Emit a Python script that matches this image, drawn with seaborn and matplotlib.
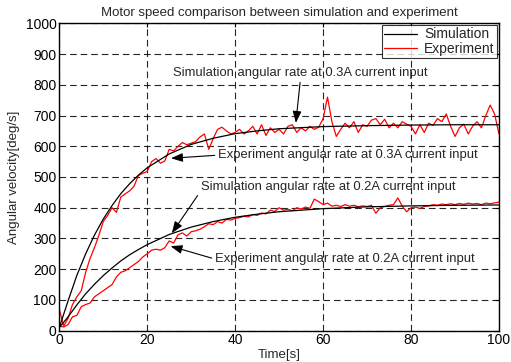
import numpy as np
import pandas as pd
import seaborn as sns
import matplotlib
matplotlib.use("Agg")
import matplotlib.pyplot as plt

# ---- data ----
sim_t = [0, 2, 4, 6, 8, 10, 12, 14, 16, 18, 20, 25, 30, 35, 40, 45, 50, 60, 70, 80, 90, 100]
sim_03 = [10, 97, 180, 250, 311, 363, 407, 446, 478, 506, 530, 575, 606, 626, 641, 650, 657, 664, 667, 669, 670, 670]
sim_02 = [10, 45, 84, 120, 151, 179, 204, 227, 247, 264, 280, 313, 337, 355, 369, 379, 387, 397, 403, 406, 408, 409]

exp_t = list(range(0, 101))
exp_03 = [70, 15, 40, 85, 110, 130, 190, 235, 270, 310,
          355, 375, 400, 385, 435, 445, 455, 470, 505, 512,
          518, 550, 560, 545, 552, 590, 585, 600, 612, 605,
          610, 615, 630, 640, 590, 625, 655, 662, 650, 640,
          645, 655, 640, 650, 665, 640, 670, 635, 660, 645,
          655, 640, 665, 670, 645, 660, 650, 665, 655, 662,
          690, 760, 680, 632, 655, 675, 660, 680, 645, 670,
          665, 685, 690, 670, 688, 660, 675, 660, 680, 672,
          665, 640, 670, 645, 675, 668, 690, 680, 705, 665,
          632, 660, 672, 640, 665, 680, 660, 700, 734, 705,
          640]
exp_02 = [15, 12, 20, 45, 50, 78, 85, 90, 110, 120,
          130, 140, 150, 175, 190, 195, 205, 215, 225, 240,
          250, 262, 265, 262, 270, 292, 285, 312, 318, 308,
          322, 325, 330, 338, 348, 345, 355, 350, 362, 360,
          365, 368, 372, 370, 378, 375, 383, 380, 392, 388,
          400, 392, 395, 390, 400, 396, 402, 398, 428, 420,
          410, 415, 405, 408, 404, 410, 405, 408, 403, 406,
          404, 408, 382, 400, 404, 408, 410, 432, 405, 387,
          400, 402, 398, 404, 406, 410, 408, 412, 410, 413,
          410, 414, 411, 415, 412, 414, 410, 415, 413, 416,
          418]

x_ticks = [0, 20, 40, 60, 80, 100]
y_ticks = [0, 100, 200, 300, 400, 500, 600, 700, 800, 900, 1000]

sns.set_style("white")
plt.rcParams['font.family'] = ['Liberation Sans', 'DejaVu Sans']
plt.rcParams['font.size'] = 9

fig = plt.figure(figsize=(5.11, 3.62), dpi=100)
ax = fig.add_axes([0.116, 0.0865, 0.8605, 0.8491])

sns.lineplot(x=exp_t, y=exp_03, color='red', lw=0.9, ax=ax, label='Experiment')
sns.lineplot(x=exp_t, y=exp_02, color='red', lw=0.9, ax=ax, legend=False)
sns.lineplot(x=sim_t, y=sim_03, color='black', lw=0.9, ax=ax, label='Simulation')
sns.lineplot(x=sim_t, y=sim_02, color='black', lw=0.9, ax=ax, legend=False)

ax.set_xlim(0, 100)
ax.set_ylim(0, 1000)
ax.set_xticks(x_ticks)
ax.set_yticks(y_ticks)
ax.grid(True, color='black', linestyle=(0, (6, 3.5)), linewidth=0.8, alpha=0.85)
ax.set_axisbelow(True)
for s in ax.spines.values():
    s.set_color('black')
    s.set_linewidth(1.0)
ax.tick_params(direction='in', length=3, top=True, right=True, labelsize=10, colors='black', pad=2)

ax.set_title("Motor speed comparison between simulation and experiment", fontsize=9.5, pad=5)
ax.set_xlabel("Time[s]", fontsize=9.5, labelpad=1)
ax.set_ylabel("Angular velocity[deg/s]", fontsize=9.5, labelpad=4)

handles, labels = ax.get_legend_handles_labels()
order = [labels.index('Simulation'), labels.index('Experiment')]
leg = ax.legend([handles[i] for i in order], [labels[i] for i in order],
                loc='upper right', fontsize=10, frameon=True, fancybox=False,
                edgecolor='black', borderpad=0.15, handlelength=2.4, labelspacing=0.05,
                borderaxespad=0.15, handletextpad=0.5)
leg.get_frame().set_linewidth(0.8)

arrow = dict(arrowstyle='-|>,head_length=0.75,head_width=0.28', color='black', lw=0.8, shrinkA=0, shrinkB=0)
fs = 9.4
ax.annotate("Simulation angular rate at 0.3A current input", xy=(53.8, 676), xytext=(25.9, 838),
            fontsize=fs, va='center', ha='left', arrowprops=dict(arrow, relpos=(0.5, 0)))
ax.annotate("Experiment angular rate at 0.3A current input", xy=(25.4, 561), xytext=(36.1, 571),
            fontsize=fs, va='center', ha='left', arrowprops=dict(arrow, relpos=(0, 0.5)))
ax.annotate("Simulation angular rate at 0.2A current input", xy=(25.6, 317), xytext=(32.2, 467),
            fontsize=fs, va='center', ha='left', arrowprops=dict(arrow, relpos=(0, 0.2)))
ax.annotate("Experiment angular rate at 0.2A current input", xy=(25.3, 275), xytext=(35.4, 233),
            fontsize=fs, va='center', ha='left', arrowprops=dict(arrow, relpos=(0, 0.5)))

fig.savefig("out.png", dpi=100)
